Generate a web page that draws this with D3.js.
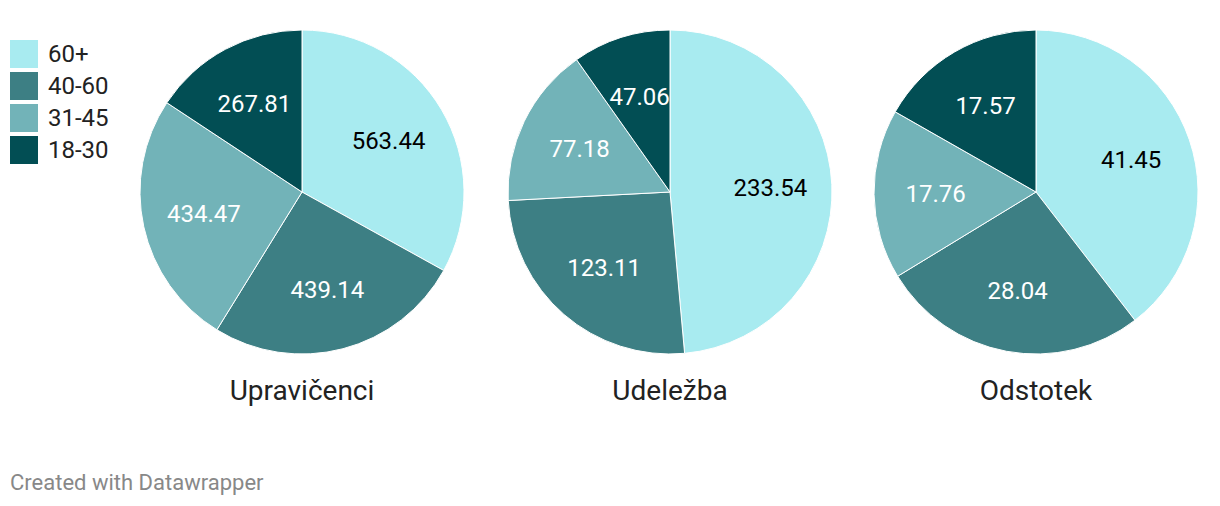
<!DOCTYPE html>
<html><head><meta charset="utf-8">
<script src="https://cdn.jsdelivr.net/npm/d3@7"></script>
<style>body{margin:0;background:#fff;font-family:Roboto,sans-serif}</style>
</head><body><svg id="c" width="1220" height="506"></svg>
<script>
const groups = ["60+", "40-60", "31-45", "18-30"];
const colors = ["#a8ebf0", "#3d7f84", "#72b3b8", "#024e54"];
const textColors = ["#000", "#fff", "#fff", "#fff"];
const charts = ["Upravičenci", "Udeležba", "Odstotek"];
const upravicenci = [563.44, 439.14, 434.47, 267.81];
const udelezba = [233.54, 123.11, 77.18, 47.06];
const odstotek = [41.45, 28.04, 17.76, 17.57];
const seriesValues = [upravicenci, udelezba, odstotek];

const svg = d3.select("#c");
const color = d3.scaleOrdinal().domain(groups).range(colors);
const tcolor = d3.scaleOrdinal().domain(groups).range(textColors);
const xPos = d3.scaleOrdinal().domain(charts).range([302, 670, 1036]);
const R = 162, cy = 192;
const pie = d3.pie().sort(null).value(d => d.v);
const arc = d3.arc().innerRadius(0).outerRadius(R);
const labelArc = d3.arc().innerRadius(R*0.62).outerRadius(R*0.62);

charts.forEach((name, i) => {
  const data = groups.map((g, j) => ({g, v: seriesValues[i][j]}));
  const g = svg.append("g").attr("transform", `translate(${xPos(name)},${cy})`);
  const arcs = pie(data);
  g.selectAll("path").data(arcs).join("path")
    .attr("d", arc).attr("fill", d => color(d.data.g))
    .attr("stroke", "#fff").attr("stroke-width", 1);
  g.selectAll("text").data(arcs).join("text")
    .attr("transform", d => `translate(${labelArc.centroid(d)})`)
    .attr("text-anchor", "middle").attr("dy", "0.35em")
    .attr("font-size", 24).attr("fill", d => tcolor(d.data.g))
    .text(d => d.data.v.toFixed(2));
  svg.append("text").attr("x", xPos(name)).attr("y", 400)
    .attr("text-anchor", "middle").attr("font-size", 28).attr("fill", "#222")
    .text(name);
});

const leg = svg.append("g").attr("transform", "translate(10,40)");
groups.forEach((gname, j) => {
  leg.append("rect").attr("x", 0).attr("y", j*32).attr("width", 28).attr("height", 28).attr("fill", color(gname));
  leg.append("text").attr("x", 38).attr("y", j*32 + 14).attr("dy", "0.35em")
    .attr("font-size", 24).attr("fill", "#222").text(gname);
});

svg.append("text").attr("x", 10).attr("y", 490).attr("font-size", 22)
  .attr("fill", "#888").text("Created with Datawrapper");
</script></body></html>
